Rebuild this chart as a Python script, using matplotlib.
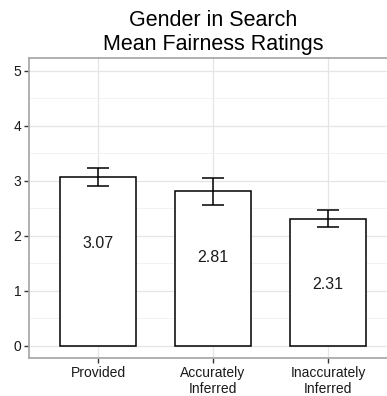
import matplotlib
matplotlib.use('Agg')
import matplotlib.pyplot as plt
import numpy as np

categories = ['Provided', 'Accurately\nInferred', 'Inaccurately\nInferred']
means = [3.07, 2.81, 2.31]
errors = [0.17, 0.24, 0.155]
labels = ['3.07', '2.81', '2.31']

plt.rcParams['font.family'] = ['Liberation Sans', 'DejaVu Sans']

fig = plt.figure(figsize=(3.87, 3.96), dpi=100)
# panel runs past the right edge, as in the reference
ax = fig.add_axes([29 / 387, 38 / 396, 368 / 387, 300 / 396])

x = np.arange(1, len(categories) + 1)
ax.bar(x, means, width=0.66, color='white', edgecolor='black', linewidth=1.1, zorder=3)
ax.errorbar(x, means, yerr=errors, fmt='none', ecolor='black', elinewidth=1.1,
            capsize=8, capthick=1.1, zorder=4)
for xi, m, lab in zip(x, means, labels):
    ax.text(xi, m - 1.2, lab, ha='center', va='center', fontsize=11.5, color='#1a1a1a', zorder=5)

ax.set_xlim(0.4, 3.6)
ax.set_ylim(-0.22, 5.235)
ax.set_xticks(x)
ax.set_xticklabels(categories, fontsize=10, color='#1a1a1a', linespacing=1.2)
ax.set_yticks(range(0, 6))
ax.set_yticklabels([str(i) for i in range(0, 6)], fontsize=10, color='#1a1a1a')
ax.set_yticks(np.arange(0.5, 5.5, 1.0), minor=True)
ax.tick_params(axis='both', which='major', length=3.5, width=1.0, color='#333333', pad=2)
ax.tick_params(axis='y', which='minor', length=0)

ax.grid(True, which='major', color='#e5e5e5', linewidth=0.9, zorder=0)
ax.grid(True, which='minor', axis='y', color='#f0f0f0', linewidth=0.6, zorder=0)
ax.set_axisbelow(True)
for side in ax.spines.values():
    side.set_color('#aaaaaa')
    side.set_linewidth(1.3)

ax.set_title('Gender in Search\nMean Fairness Ratings', fontsize=15.5, color='black',
             pad=6, linespacing=1.15)

fig.savefig('out.png', dpi=100)
